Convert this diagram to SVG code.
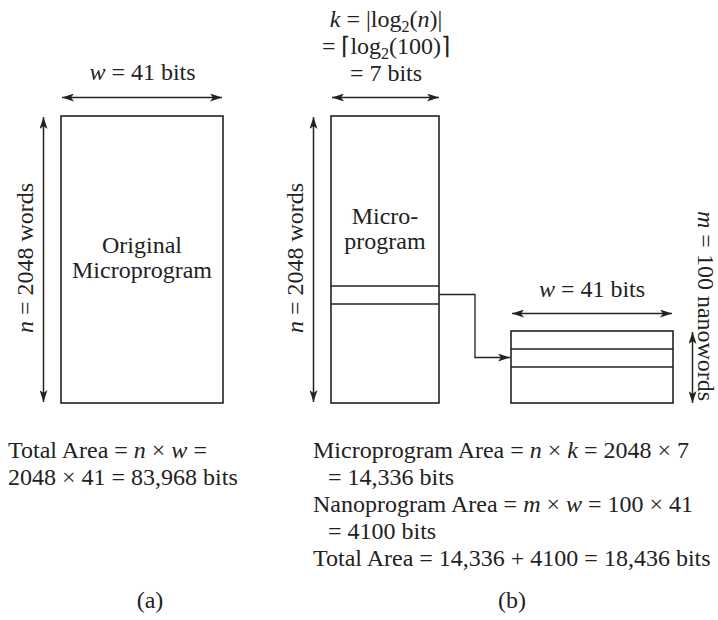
<svg xmlns="http://www.w3.org/2000/svg" width="718" height="620" viewBox="0 0 718 620">
<style>
text{font-family:"Liberation Serif","Times New Roman",serif;font-size:24px;fill:#222}
.i{font-style:italic}
.c{text-anchor:middle}
.box{fill:none;stroke:#222;stroke-width:1.6}
.ln{fill:none;stroke:#222;stroke-width:1.3}
.dim{fill:none;stroke:#222;stroke-width:1.5;marker-start:url(#ah);marker-end:url(#ah)}
.con{fill:none;stroke:#222;stroke-width:1.3;marker-end:url(#ah)}
</style>
<defs>
<marker id="ah" viewBox="0 0 12 8" refX="12" refY="4" markerWidth="12" markerHeight="8" markerUnits="userSpaceOnUse" orient="auto-start-reverse">
<path d="M0,0 L12,4 L0,8 L3,4 z" fill="#222"/>
</marker>
</defs>

<g id="original-microprogram">
<rect class="box" x="61" y="116" width="162" height="287"/>
<text class="c" x="142" y="253">Original</text>
<text class="c" x="142" y="278">Microprogram</text>
</g>

<g id="micro-program">
<rect class="box" x="331" y="116" width="108" height="287"/>
<line class="ln" x1="331" y1="286" x2="439" y2="286"/>
<line class="ln" x1="331" y1="304" x2="439" y2="304"/>
<text class="c" x="385" y="224">Micro-</text>
<text class="c" x="385" y="249">program</text>
</g>

<g id="nanoprogram">
<rect class="box" x="511" y="331" width="162" height="72"/>
<line class="ln" x1="511" y1="349" x2="673" y2="349"/>
<line class="ln" x1="511" y1="367" x2="673" y2="367"/>
</g>

<g id="connectors">
<line class="dim" x1="62" y1="97.5" x2="222" y2="97.5"/>
<line class="dim" x1="43.5" y1="117" x2="43.5" y2="402"/>
<line class="dim" x1="332" y1="97.5" x2="439" y2="97.5"/>
<line class="dim" x1="313.5" y1="117" x2="313.5" y2="402"/>
<line class="dim" x1="512" y1="313.5" x2="672" y2="313.5"/>
<line class="dim" x1="692.5" y1="332" x2="692.5" y2="403"/>
<polyline class="con" points="439,294.5 475,294.5 475,357.5 510,357.5"/>
</g>

<g id="labels">
<text class="c" x="142.5" y="80"><tspan class="i">w</tspan> = 41 bits</text>
<text class="c" x="386" y="27"><tspan class="i">k</tspan> = |log<tspan font-size="16" dy="5">2</tspan><tspan dy="-5">(</tspan><tspan class="i">n</tspan>)|</text>
<text class="c" x="386" y="54">= ⌈log<tspan font-size="16" dy="5">2</tspan><tspan dy="-5">(100)⌉</tspan></text>
<text class="c" x="386" y="81">= 7 bits</text>
<text class="c" x="592" y="297"><tspan class="i">w</tspan> = 41 bits</text>
<text class="c" transform="translate(33,258) rotate(-90)"><tspan class="i">n</tspan> = 2048 words</text>
<text class="c" transform="translate(303,258) rotate(-90)"><tspan class="i">n</tspan> = 2048 words</text>
<text font-size="23" transform="translate(697.5,211) rotate(90)"><tspan class="i">m</tspan> = 100 nanowords</text>
</g>

<g id="text-a">
<text x="8" y="458">Total Area = <tspan class="i">n</tspan> × <tspan class="i">w</tspan> =</text>
<text x="8" y="485">2048 × 41 = 83,968 bits</text>
<text class="c" x="150" y="608">(a)</text>
</g>

<g id="text-b">
<text x="313" y="458">Microprogram Area = <tspan class="i">n</tspan> × <tspan class="i">k</tspan> = 2048 × 7</text>
<text x="328" y="485">= 14,336 bits</text>
<text x="313" y="512">Nanoprogram Area = <tspan class="i">m</tspan> × <tspan class="i">w</tspan> = 100 × 41</text>
<text x="328" y="539">= 4100 bits</text>
<text x="313" y="566">Total Area = 14,336 + 4100 = 18,436 bits</text>
<text class="c" x="512" y="608">(b)</text>
</g>
</svg>
